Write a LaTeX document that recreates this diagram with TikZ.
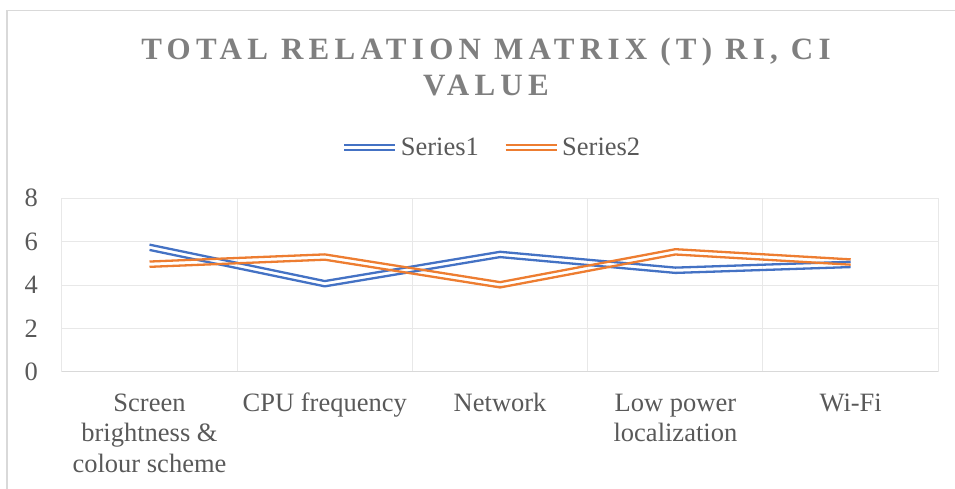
\documentclass[tikz,border=0pt]{standalone}
\usepackage{fontspec}
\setmainfont{Liberation Serif}
\newfontfamily\titlefont[LetterSpace=17]{Liberation Serif}
\definecolor{sblue}{HTML}{4472C4}
\definecolor{sorange}{HTML}{ED7D31}
\definecolor{txt}{HTML}{595959}
\definecolor{ttl}{HTML}{7F7F7F}
\definecolor{gridc}{HTML}{E8E8E8}
\definecolor{axisc}{HTML}{D9D9D9}
\begin{document}
\begin{tikzpicture}[x=1pt,y=-1pt,
  lbl/.style={inner sep=0pt, text=txt, font=\fontsize{26.5}{30.3}\selectfont},
  ttlstyle/.style={inner sep=0pt, text=ttl, font=\titlefont\bfseries\fontsize{31}{36}\selectfont},
  gridline/.style={draw=gridc, line width=1pt},
  serline/.style={line width=2.3pt, line join=round, line cap=butt}]
\useasboundingbox (0,0) rectangle (955,488);
\clip (0,0) rectangle (955,488);
% chart border
\coordinate (bl) at (7,500);
\coordinate (tl) at (7,10.5);
\coordinate (tr) at (970,10.5);
\draw[axisc, line width=1.3pt] (bl) -- (tl) -- (tr);
% title
\node[ttlstyle, anchor=base] (t1) at (486,59.5) {TOTAL RELATION MATRIX (T) RI, CI};
\node[ttlstyle, anchor=base] (t2) at (486,95.5) {VALUE};
% legend
\coordinate (l1a) at (344,147.5); \coordinate (l1b) at (395,147.5);
\coordinate (l2a) at (505.7,147.5); \coordinate (l2b) at (556.7,147.5);
\draw[serline, sblue] ([yshift=2.6pt]l1a) -- ([yshift=2.6pt]l1b);
\draw[serline, sblue] ([yshift=-2.6pt]l1a) -- ([yshift=-2.6pt]l1b);
\draw[serline, sorange] ([yshift=2.6pt]l2a) -- ([yshift=2.6pt]l2b);
\draw[serline, sorange] ([yshift=-2.6pt]l2a) -- ([yshift=-2.6pt]l2b);
\node[lbl, anchor=base west] (s1) at (400.7,155.7) {Series1};
\node[lbl, anchor=base west] (s2) at (562,155.7) {Series2};
% plot area
\begin{scope}[shift={(0,371.7)}, y=21.675pt]
  \foreach \v in {2,4,6,8} {
    \draw[gridline] (61.7,\v) -- (938.3,\v);
    \node[lbl, anchor=east] at (38,\v) {\v};
  }
  \node[lbl, anchor=east] (y0) at (38,0) {0};
  \foreach \i in {0,...,5} {
    \draw[gridline] ({61.7+175.32*\i},0) -- ({61.7+175.32*\i},8);
  }
  \draw[axisc, line width=1pt] (61.7,0) -- (938.3,0);
  % data
  \coordinate (b1) at (149.5,5.74);
  \coordinate (b2) at (324.8,4.06);
  \coordinate (b3) at (500.1,5.41);
  \coordinate (b4) at (675.4,4.68);
  \coordinate (b5) at (850.7,4.95);
  \coordinate (o1) at (149.5,4.96);
  \coordinate (o2) at (324.8,5.29);
  \coordinate (o3) at (500.1,4.01);
  \coordinate (o4) at (675.4,5.53);
  \coordinate (o5) at (850.7,5.06);
\end{scope}
\foreach \s in {2.65,-2.65} {
  \draw[serline, sblue] ([yshift=\s pt]b1) -- ([yshift=\s pt]b2) -- ([yshift=\s pt]b3) -- ([yshift=\s pt]b4) -- ([yshift=\s pt]b5);
}
\foreach \s in {2.65,-2.65} {
  \draw[serline, sorange] ([yshift=\s pt]o1) -- ([yshift=\s pt]o2) -- ([yshift=\s pt]o3) -- ([yshift=\s pt]o4) -- ([yshift=\s pt]o5);
}
% category labels (base anchor = baseline of last line)
\node[lbl, anchor=base, align=center] (c1) at (149.5,472.1) {Screen\\brightness \&\\colour scheme};
\node[lbl, anchor=base, align=center] (c2) at (324.8,411.5) {CPU frequency};
\node[lbl, anchor=base, align=center] (c3) at (500.1,411.5) {Network};
\node[lbl, anchor=base, align=center] (c4) at (675.4,441.8) {Low power\\localization};
\node[lbl, anchor=base, align=center] (c5) at (850.7,411.5) {Wi-Fi};
\end{tikzpicture}
\end{document}
